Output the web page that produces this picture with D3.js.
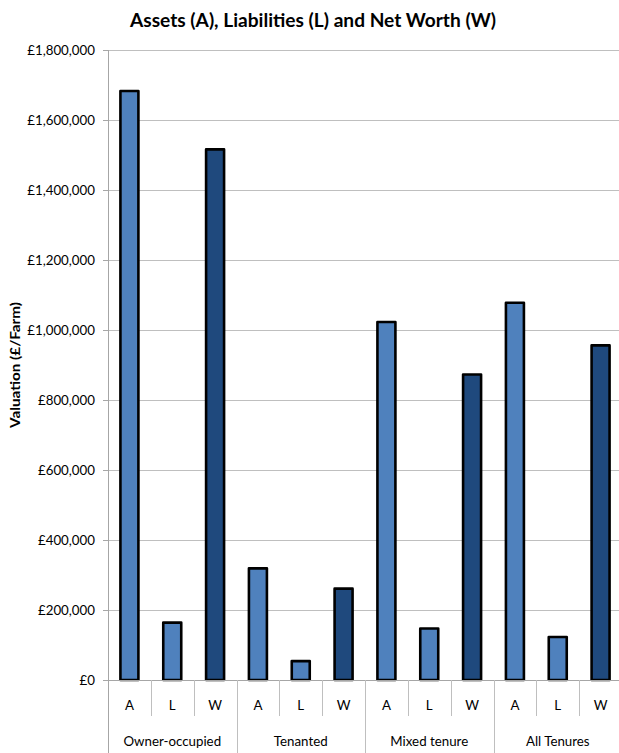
<!DOCTYPE html>
<html>
<head>
<meta charset="utf-8">
<script src="https://cdn.jsdelivr.net/npm/d3@7"></script>
<style>
  html, body { margin: 0; padding: 0; background: #fff; }
  svg { display: block; }
  text { font-family: Lato, "Open Sans", sans-serif; fill: #000; }
</style>
</head>
<body>
<div id="chart"></div>
<script>
// Farm balance sheet by tenure type (£ per farm)
const categories = ["Owner-occupied", "Tenanted", "Mixed tenure", "All Tenures"];
const measures = ["A", "L", "W"];
const assets = [1683000, 319000, 1023000, 1078000];
const liabilities = [164000, 54000, 147000, 123000];
const netWorth = [1516000, 261000, 873000, 956000];
const yTicks = [0, 200000, 400000, 600000, 800000, 1000000, 1200000, 1400000, 1600000, 1800000];
const titleText = "Assets (A), Liabilities (L) and Net Worth (W)";
const yTitle = "Valuation (£/Farm)";

const seriesValues = { A: assets, L: liabilities, W: netWorth };
const seriesColor = { A: "#4F81BD", L: "#4F81BD", W: "#1F497D" };

const rows = [];
categories.forEach((c, i) => {
  measures.forEach(m => rows.push({ key: c + "|" + m, cat: c, m, value: seriesValues[m][i] }));
});

const W = 619, H = 753;
const plotLeft = 108, plotRight = 622, plotTop = 50, plotBottom = 680;
const fontSize = 13.3;

const svg = d3.select("#chart").append("svg").attr("width", W).attr("height", H);

const x = d3.scaleBand().domain(rows.map(d => d.key)).range([plotLeft, plotRight]).paddingInner(0.58).paddingOuter(0.29);
const slot = (plotRight - plotLeft) / rows.length;
const y = d3.scaleLinear().domain([0, 1800000]).range([plotBottom, plotTop]);

// gridlines
svg.append("g").selectAll("line").data(yTicks.filter(t => t > 0)).join("line")
  .attr("x1", plotLeft).attr("x2", W).attr("y1", d => Math.round(y(d)) + 0.5).attr("y2", d => Math.round(y(d)) + 0.5)
  .attr("stroke", "#BFBFBF").attr("stroke-width", 1);

// y axis
const yAxis = d3.axisLeft(y).tickValues(yTicks).tickSize(5).tickPadding(8)
  .tickFormat(d => "£" + d3.format(",")(d));
const ya = svg.append("g").attr("transform", `translate(${plotLeft},0)`).call(yAxis);
ya.select(".domain").remove();
ya.selectAll(".tick line").attr("stroke", "#A6A6A6");
ya.selectAll(".tick text").attr("font-size", fontSize).attr("fill", "#000")
  .style("font-family", "Lato, 'Open Sans', sans-serif");
svg.append("line").attr("x1", plotLeft + 0.5).attr("x2", plotLeft + 0.5).attr("y1", plotTop).attr("y2", H)
  .attr("stroke", "#A6A6A6");

// bars
svg.append("g").selectAll("rect").data(rows).join("rect")
  .attr("x", d => x(d.key)).attr("width", x.bandwidth())
  .attr("y", d => y(d.value)).attr("height", d => y(0) - y(d.value))
  .attr("fill", d => seriesColor[d.m]).attr("stroke", "#000").attr("stroke-width", 2.6)
  .attr("stroke-linejoin", "round");

// category axis
svg.append("line").attr("x1", plotLeft).attr("x2", W).attr("y1", plotBottom + 0.5).attr("y2", plotBottom + 0.5)
  .attr("stroke", "#A6A6A6");
rows.forEach((d, i) => {
  if (i === 0) return;
  const xx = Math.round(plotLeft + i * slot) + 0.5;
  const groupEdge = i % measures.length === 0;
  svg.append("line").attr("x1", xx).attr("x2", xx).attr("y1", plotBottom).attr("y2", groupEdge ? H : 716)
    .attr("stroke", "#BFBFBF");
});
svg.append("g").selectAll("text").data(rows).join("text")
  .attr("x", d => x(d.key) + x.bandwidth() / 2).attr("y", 710)
  .attr("text-anchor", "middle").attr("font-size", fontSize).text(d => d.m);
svg.append("g").selectAll("text").data(categories).join("text")
  .attr("x", (d, i) => plotLeft + (i * 3 + 1.5) * slot).attr("y", 746)
  .attr("text-anchor", "middle").attr("font-size", fontSize).text(d => d);

// titles
svg.append("text").attr("x", 313).attr("y", 27).attr("text-anchor", "middle")
  .attr("font-size", 18.7).attr("font-weight", "bold")
  .attr("textLength", 366).attr("lengthAdjust", "spacingAndGlyphs").text(titleText);
svg.append("text").attr("transform", "translate(20,365) rotate(-90)").attr("text-anchor", "middle")
  .attr("font-size", 13.3).attr("font-weight", "bold")
  .attr("textLength", 126).attr("lengthAdjust", "spacingAndGlyphs").text(yTitle);
</script>
</body>
</html>
